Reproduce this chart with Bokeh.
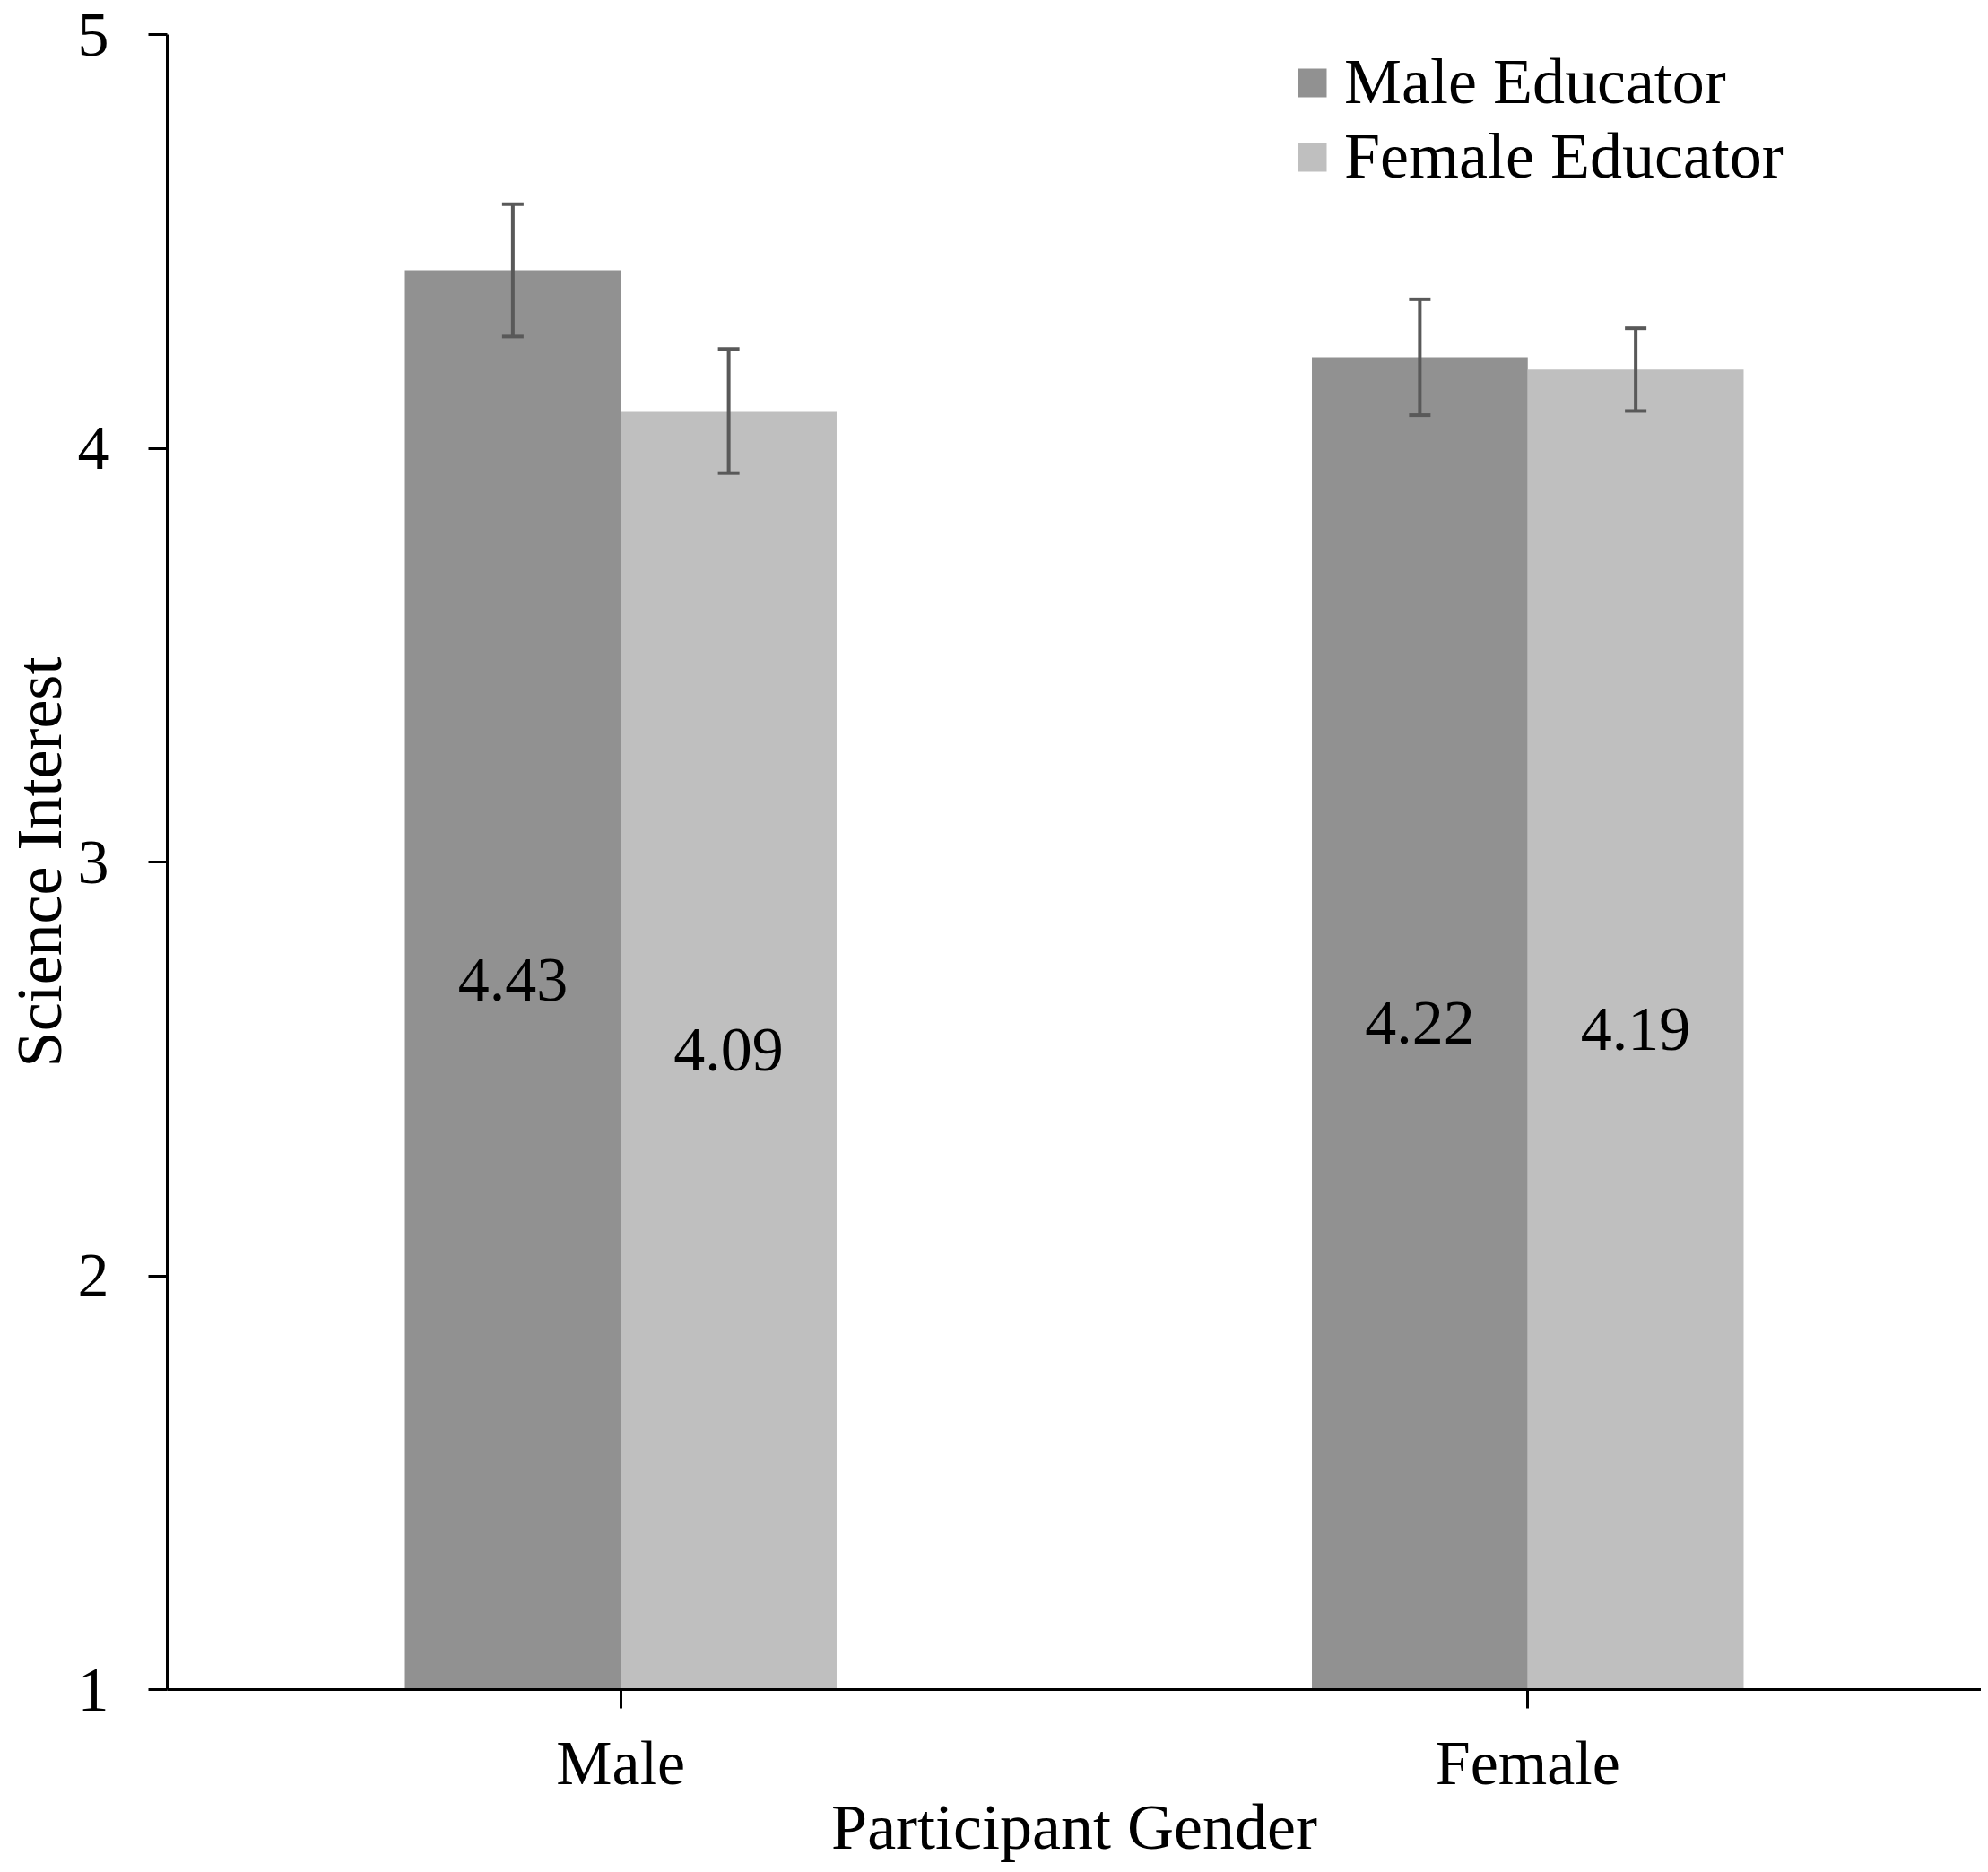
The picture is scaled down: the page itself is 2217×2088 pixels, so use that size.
from bokeh.plotting import figure
from bokeh.models import (ColumnDataSource, FactorRange, Range1d, Whisker, TeeHead,
                          LabelSet, Legend, LegendItem, FixedTicker)
from bokeh.transform import dodge
from bokeh.embed import file_html
from bokeh.resources import INLINE

# ---- data ----
genders = ["Male", "Female"]
male_educator = [4.43, 4.22]
female_educator = [4.09, 4.19]
male_educator_err = [0.16, 0.14]
female_educator_err = [0.15, 0.10]
y_ticks = [1, 2, 3, 4, 5]
x_title = "Participant Gender"
y_title = "Science Interest"

FONT = "Liberation Serif"
DARK = "#919191"
LIGHT = "#bfbfbf"
ERR = "#595959"

def src(vals, errs):
    return ColumnDataSource(dict(
        g=genders,
        v=vals,
        lo=[v - e for v, e in zip(vals, errs)],
        hi=[v + e for v, e in zip(vals, errs)],
        mid=[(v + 1) / 2 for v in vals],
        lab=[f"{v:.2f}" for v in vals],
    ))

s_m = src(male_educator, male_educator_err)
s_f = src(female_educator, female_educator_err)

p = figure(x_range=FactorRange(*genders, range_padding=0), y_range=Range1d(1, 5),
           width=2209, height=2080, output_backend="svg", toolbar_location=None,
           min_border_left=181, min_border_right=0, min_border_top=38, min_border_bottom=184)

BW = 0.238
r1 = p.vbar(x=dodge("g", -BW / 2, range=p.x_range), top="v", bottom=1, width=BW,
            source=s_m, fill_color=DARK, line_color=None)
r2 = p.vbar(x=dodge("g", BW / 2, range=p.x_range), top="v", bottom=1, width=BW,
            source=s_f, fill_color=LIGHT, line_color=None)

for s, off in ((s_m, -BW / 2), (s_f, BW / 2)):
    w = Whisker(base=dodge("g", off, range=p.x_range), lower="lo", upper="hi", source=s,
                line_color=ERR, line_width=4, level="overlay",
                upper_head=TeeHead(size=24, line_color=ERR, line_width=4),
                lower_head=TeeHead(size=24, line_color=ERR, line_width=4))
    p.add_layout(w)
    lbl = LabelSet(x=dodge("g", off, range=p.x_range), y="mid", text="lab", source=s,
                   text_font=FONT, text_font_size="70px", text_color="black",
                   text_align="center", text_baseline="middle")
    p.add_layout(lbl)

legend = Legend(items=[LegendItem(label="Male Educator", renderers=[r1]),
                       LegendItem(label="Female Educator", renderers=[r2])],
                location=(1257, 1668), label_text_font=FONT, label_text_font_size="72px",
                label_text_color="black",
                glyph_width=40, glyph_height=40, label_standoff=16, spacing=0,
                label_height=82, padding=0, margin=0,
                border_line_color=None, background_fill_alpha=0)
p.add_layout(legend)

p.grid.visible = False
p.outline_line_color = None

p.yaxis.ticker = FixedTicker(ticks=y_ticks)
p.xaxis.axis_label = x_title
p.yaxis.axis_label = y_title
for ax in (p.xaxis, p.yaxis):
    ax.axis_line_width = 3
    ax.axis_line_color = "black"
    ax.major_tick_line_width = 3
    ax.major_tick_line_color = "black"
    ax.major_tick_out = 21
    ax.major_tick_in = 0
    ax.minor_tick_line_color = None
    ax.major_label_text_font = FONT
    ax.major_label_text_font_size = "70px"
    ax.major_label_text_color = "black"
    ax.axis_label_text_font = FONT
    ax.axis_label_text_font_size = "72px"
    ax.axis_label_text_font_style = "normal"
    ax.axis_label_text_color = "black"

p.yaxis.major_label_standoff = 44
p.yaxis.axis_label_standoff = 0
p.xaxis.major_label_standoff = 22
p.xaxis.axis_label_standoff = -10
p.xaxis.separator_line_color = None

open("out.html", "w").write(file_html(p, INLINE))
